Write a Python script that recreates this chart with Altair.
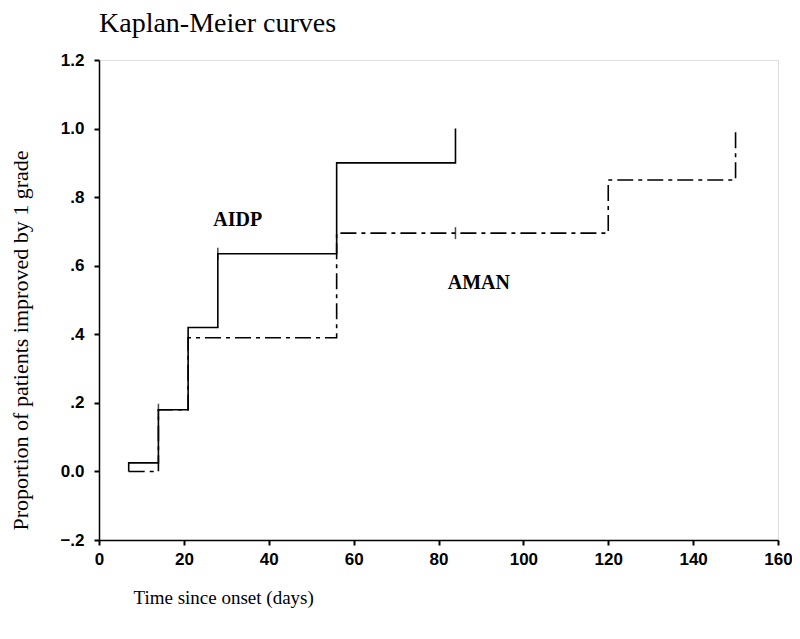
import altair as alt
import pandas as pd

# AIDP (solid) Kaplan-Meier steps
aidp_days = [7, 7, 14, 21, 28, 56, 84]
aidp_prop = [0.0, 0.025, 0.18, 0.42, 0.635, 0.90, 1.0]

# AMAN (dash-dot) Kaplan-Meier steps
aman_days = [7, 14, 21, 56, 120, 150]
aman_prop = [0.0, 0.18, 0.39, 0.695, 0.85, 1.0]

# censor marks
cens_days = [14, 28, 84]
cens_prop = [0.18, 0.635, 0.695]

# group labels
lab_text = ["AIDP", "AMAN"]
lab_days = [32.7, 89.5]
lab_prop = [0.733, 0.55]

x_ticks = [0, 20, 40, 60, 80, 100, 120, 140, 160]
y_ticks = [-0.2, 0.0, 0.2, 0.4, 0.6, 0.8, 1.0, 1.2]

df_aidp = pd.DataFrame({"day": aidp_days, "prop": aidp_prop})
df_aman = pd.DataFrame({"day": aman_days, "prop": aman_prop})
df_cens = pd.DataFrame({"day": cens_days, "prop": cens_prop})
df_lab = pd.DataFrame({"t": lab_text, "day": lab_days, "prop": lab_prop})

xs = alt.Scale(domain=[0, 160], nice=False, zero=False)
ys = alt.Scale(domain=[-0.2, 1.2], nice=False, zero=False)

label_font = "Liberation Sans"
serif = "Liberation Serif"

x_axis = alt.Axis(
    values=x_ticks, title="Time since onset (days)", grid=False,
    labelFont=label_font, labelFontSize=17, labelFontWeight="bold", labelColor="black",
    tickColor="black", tickSize=5, tickWidth=2, domainColor="black", domainWidth=1.5,
    labelPadding=6, labelFlush=False,
    titleFont=serif, titleFontSize=19, titleFontWeight="normal", titleColor="black",
    titleX=34, titleY=57, titleAlign="left", titleBaseline="middle", titleAnchor="start",
)
y_axis = alt.Axis(
    values=y_ticks, title="Proportion of patients improved by 1 grade", grid=False,
    labelExpr="datum.value == 0 ? '0.0' : datum.value == 1 ? '1.0' : datum.value == 1.2 ? '1.2' : replace(format(datum.value, '.1f'), '0.', '.')",
    labelFont=label_font, labelFontSize=17, labelFontWeight="bold", labelColor="black",
    tickColor="black", tickSize=5, tickWidth=2, domainColor="black", domainWidth=1.5,
    labelPadding=10, labelFlush=False,
    titleFont=serif, titleFontSize=22, titleFontWeight="normal", titleColor="black",
    titleX=-79, titleY=280, titleAlign="center", titleBaseline="middle", titleAngle=-90,
)

aidp = alt.Chart(df_aidp).mark_line(interpolate="step-after", color="black", strokeWidth=1.6).encode(
    x=alt.X("day:Q", scale=xs, axis=x_axis),
    y=alt.Y("prop:Q", scale=ys, axis=y_axis),
)
aman = alt.Chart(df_aman).mark_line(interpolate="step-after", color="black", strokeWidth=1.6,
                                    strokeDash=[16, 5, 4, 5]).encode(
    x=alt.X("day:Q", scale=xs),
    y=alt.Y("prop:Q", scale=ys),
)
cens = alt.Chart(df_cens).mark_tick(orient="vertical", color="black", size=12, thickness=1.5).encode(
    x=alt.X("day:Q", scale=xs),
    y=alt.Y("prop:Q", scale=ys),
)
labels = alt.Chart(df_lab).mark_text(font=serif, fontSize=20, fontWeight="bold", color="black").encode(
    x=alt.X("day:Q", scale=xs),
    y=alt.Y("prop:Q", scale=ys),
    text="t:N",
)

chart = alt.layer(aidp, aman, cens, labels).properties(
    width=679, height=480,
    title=alt.TitleParams("Kaplan-Meier curves", anchor="start", frame="group", font=serif,
                          fontSize=28, fontWeight="normal", color="black", offset=13),
    autosize="none",
    padding={"left": 91, "top": 52, "right": 14, "bottom": 88},
).configure_view(stroke="black", strokeWidth=1.5).configure(background="white")

chart.save("out.html", embed_options={"renderer": "svg", "actions": False})
